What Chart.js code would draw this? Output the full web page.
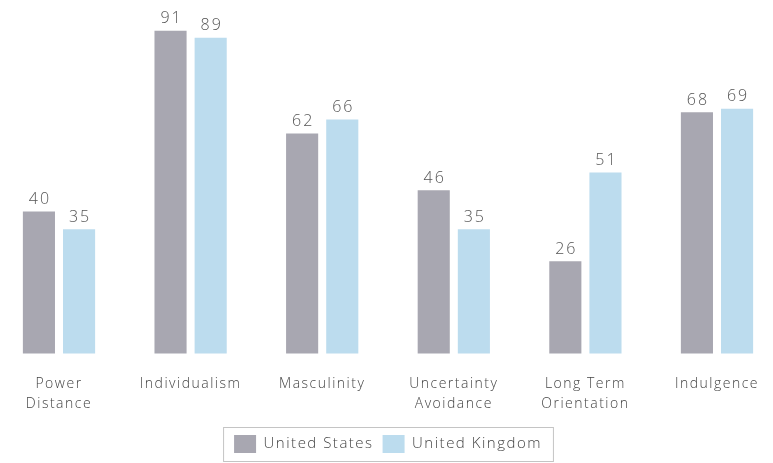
<!DOCTYPE html>
<html>
<head>
<meta charset="utf-8">
<script src="https://cdn.jsdelivr.net/npm/chart.js@4"></script>
<style>
  html, body { margin: 0; padding: 0; background: #fff; }
  #wrap { width: 773px; height: 463px; }
</style>
</head>
<body>
<div id="wrap"><canvas id="chart"></canvas></div>
<script>
// categories and values
const categories = [["Power", "Distance"], "Individualism", "Masculinity", ["Uncertainty", "Avoidance"], ["Long Term", "Orientation"], "Indulgence"];
const unitedStates = [40, 91, 62, 46, 26, 68];
const unitedKingdom = [35, 89, 66, 35, 51, 69];
const seriesNames = ["United States", "United Kingdom"];

const FONT = "'Open Sans', 'DejaVu Sans', sans-serif";

/* wider letter spacing for all text, set again after every canvas reset */
const spacing = {
    id: 'spacing',
    beforeLayout(chart) { chart.ctx.letterSpacing = '1.5px'; },
    beforeDraw(chart) { chart.ctx.letterSpacing = '1.5px'; }
};

/* draws the number above each bar */
const valueLabels = {
    id: 'valueLabels',
    afterDatasetsDraw(chart) {
        const ctx = chart.ctx;
        ctx.save();
        ctx.font = "300 16px " + FONT;
        ctx.fillStyle = '#555';
        ctx.textAlign = 'center';
        ctx.textBaseline = 'bottom';
        ctx.letterSpacing = '2px';
        chart.data.datasets.forEach(function (ds, i) {
            chart.getDatasetMeta(i).data.forEach(function (bar, j) {
                ctx.fillText(ds.data[j], bar.x + 1, bar.y - 4);
            });
        });
        ctx.restore();
    }
};

/* thin box round the legend */
const legendBox = {
    id: 'legendBox',
    afterDraw(chart) {
        const boxes = chart.legend.legendHitBoxes;
        if (!boxes || !boxes.length) return;
        const first = boxes[0], last = boxes[boxes.length - 1];
        const ctx = chart.ctx;
        ctx.save();
        ctx.strokeStyle = '#c4c4c4';
        ctx.lineWidth = 1;
        ctx.strokeRect(first.left - 10.5, first.top - 7.5, last.left + last.width - first.left + 22, first.height + 16);
        ctx.restore();
    }
};

new Chart(document.getElementById('chart'), {
    type: 'bar',
    data: {
        labels: categories,
        datasets: [{
            label: seriesNames[0],
            data: unitedStates,
            backgroundColor: '#a8a7b1',
            categoryPercentage: 0.61,
            barPercentage: 0.8,
            clip: false
        }, {
            label: seriesNames[1],
            data: unitedKingdom,
            backgroundColor: '#bcdcee',
            categoryPercentage: 0.61,
            barPercentage: 0.8,
            clip: false
        }]
    },
    options: {
        responsive: true,
        maintainAspectRatio: false,
        animation: false,
        layout: { padding: { left: 59, right: 56, top: 13, bottom: 0 } },
        scales: {
            x: {
                offset: false,
                grid: { display: false },
                border: { display: false },
                ticks: {
                    color: '#444',
                    padding: 12,
                    maxRotation: 0,
                    autoSkip: false,
                    font: { family: FONT, size: 14, weight: 300, lineHeight: 1.45 }
                }
            },
            y: {
                display: false,
                min: 0,
                max: 96
            }
        },
        plugins: {
            tooltip: { enabled: false },
            legend: {
                position: 'bottom',
                labels: {
                    boxWidth: 22,
                    boxHeight: 18,
                    padding: 9,
                    color: '#444',
                    font: { family: FONT, size: 15, weight: 300 }
                }
            }
        }
    },
    plugins: [spacing, valueLabels, legendBox]
});
</script>
</body>
</html>
